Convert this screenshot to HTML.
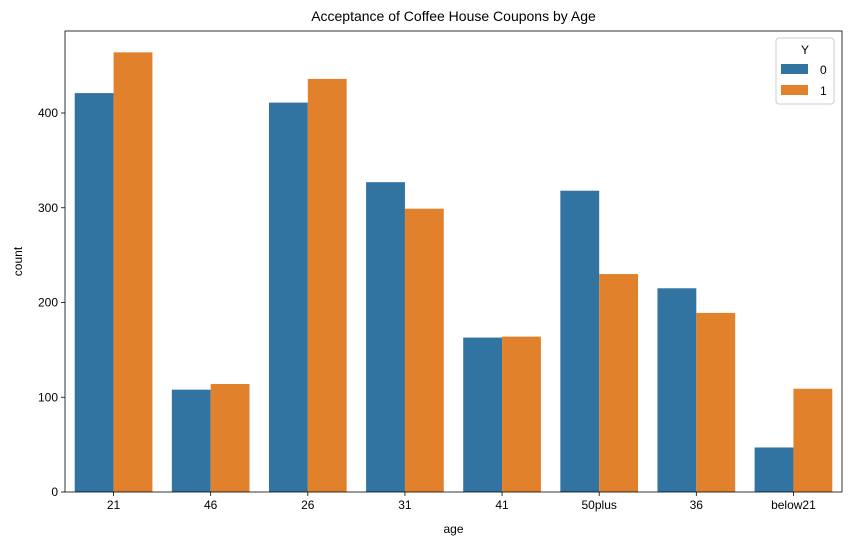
<!DOCTYPE html>
<html><head><meta charset="utf-8"><style>
body{margin:0;background:#fff;font-family:"Liberation Sans",sans-serif;}
svg text{font-family:"Liberation Sans",sans-serif;fill:#000;}
</style></head><body>
<svg id="chart" width="850" height="545" xmlns="http://www.w3.org/2000/svg"></svg>
<script>
const categories=["21","46","26","31","41","50plus","36","below21"];
const series0=[421,108,411,327,163,318,215,47];
const series1=[464,114,436,299,164,230,189,109];
const yTicks=[0,100,200,300,400];
const seriesNames=["0","1"];
const colors=["#3274a1","#e1812c"];
const L=65,R=842,T=31,B=492,yMax=(B-T)/0.9475;
const svg=document.getElementById('chart');
const NS="http://www.w3.org/2000/svg";
function mk(t,a,txt){const e=document.createElementNS(NS,t);for(const k in a)e.setAttribute(k,a[k]);if(txt!==undefined)e.textContent=txt;svg.appendChild(e);return e;}
const y=v=>B-v/yMax*(B-T);
const bw=(R-L)/categories.length;
const x=i=>L+bw*i;
const t=mk('text',{x:(L+R)/2,y:21,'text-anchor':'middle','font-size':14},'Acceptance of Coffee House Coupons by Age');

[series0,series1].forEach((s,si)=>{s.forEach((v,i)=>{
 const r=mk('rect',{x:x(i)+bw*0.1+si*bw*0.4,y:y(v),width:bw*0.4,height:B-y(v),fill:colors[si]});
 
 
});});
const ax=mk('rect',{x:L,y:T,width:R-L,height:B-T,fill:'none',stroke:'#000','stroke-width':0.8});

yTicks.forEach(v=>{mk('line',{x1:L-4,x2:L,y1:y(v),y2:y(v),stroke:'#000','stroke-width':0.8});
 const tl=mk('text',{x:L-7,y:y(v)+4,'text-anchor':'end','font-size':12},String(v));
 });
categories.forEach((c,i)=>{const cx=x(i)+bw/2;mk('line',{x1:cx,x2:cx,y1:B,y2:B+4,stroke:'#000','stroke-width':0.8});
 const tl=mk('text',{x:cx,y:B+17,'text-anchor':'middle','font-size':12},c);
 });
const xt=mk('text',{x:(L+R)/2,y:533,'text-anchor':'middle','font-size':12},'age');

const yt=mk('text',{x:22,y:(T+B)/2,'text-anchor':'middle','font-size':12,transform:`rotate(-90 22 ${(T+B)/2})`},'count');

const lg=mk('rect',{x:776,y:38,width:58,height:66,fill:'#fff',stroke:'#ccc',rx:3});

const lt=mk('text',{x:805,y:54,'text-anchor':'middle','font-size':12},'Y');

seriesNames.forEach((n,i)=>{const yy=64+i*21;
 const sw=mk('rect',{x:781,y:yy,width:27,height:10,fill:colors[i]});
 
 const tx=mk('text',{x:820,y:yy+10,'font-size':12},n);
 });
</script>
</body></html>
